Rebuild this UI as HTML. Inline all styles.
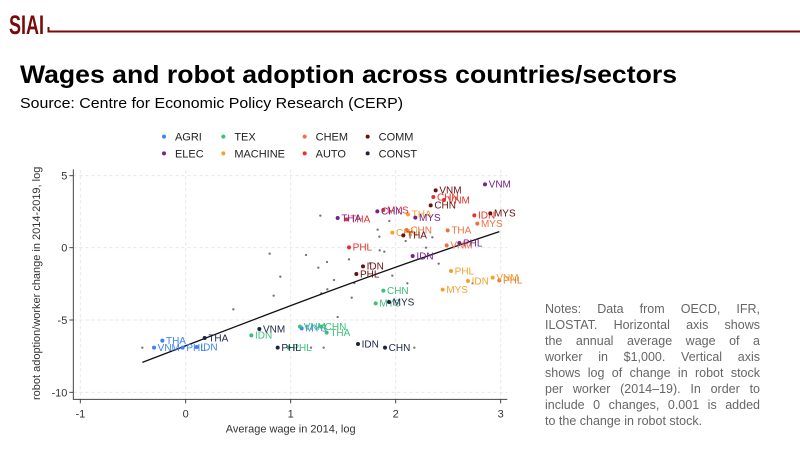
<!DOCTYPE html>
<html><head><meta charset="utf-8"><style>
body{margin:0;width:800px;height:450px;background:#fff;overflow:hidden;position:relative;font-family:"Liberation Sans",sans-serif}
.notes{position:absolute;left:545px;top:301px;width:215px;font-size:12.5px;line-height:16px;color:#666}
.notes div{text-align:justify;text-align-last:justify;white-space:nowrap}
.notes div.l{text-align-last:left}
</style></head><body>
<svg width="800" height="450" style="position:absolute;left:0;top:0" font-family="Liberation Sans, sans-serif">
<text x="9" y="34" font-size="27" font-weight="bold" fill="#7a0a0a" textLength="35" lengthAdjust="spacingAndGlyphs">SIAI</text>
<path d="M48.5 27 V31.5 H800" stroke="#7a0a0a" stroke-width="2" fill="none"/>
<text x="20" y="83" font-size="25" font-weight="bold" fill="#000" textLength="657" lengthAdjust="spacingAndGlyphs">Wages and robot adoption across countries/sectors</text>
<text x="20" y="108" font-size="14.5" fill="#000" textLength="383" lengthAdjust="spacingAndGlyphs">Source: Centre for Economic Policy Research (CERP)</text>
<g transform="translate(20,120) scale(0.3333333)" font-size="30">
<g stroke="#e8e8e8" stroke-width="3" stroke-dasharray="10,8">
<line x1="181" y1="150" x2="181" y2="838"/><line x1="497" y1="150" x2="497" y2="838"/><line x1="812" y1="150" x2="812" y2="838"/><line x1="1127" y1="150" x2="1127" y2="838"/><line x1="1442" y1="150" x2="1442" y2="838"/>
<line x1="160" y1="167" x2="1462" y2="167"/><line x1="160" y1="383" x2="1462" y2="383"/><line x1="160" y1="600" x2="1462" y2="600"/><line x1="160" y1="817" x2="1462" y2="817"/>
</g>
<path d="M160 148 V838 H1462" stroke="#444" stroke-width="3" fill="none"/>
<g stroke="#444" stroke-width="3">
<line x1="181" y1="838" x2="181" y2="850"/><line x1="497" y1="838" x2="497" y2="850"/><line x1="812" y1="838" x2="812" y2="850"/><line x1="1127" y1="838" x2="1127" y2="850"/><line x1="1442" y1="838" x2="1442" y2="850"/>
<line x1="148" y1="167" x2="160" y2="167"/><line x1="148" y1="383" x2="160" y2="383"/><line x1="148" y1="600" x2="160" y2="600"/><line x1="148" y1="817" x2="160" y2="817"/>
</g>
<g fill="#333" font-size="33" text-anchor="middle">
<text x="181" y="892">-1</text><text x="497" y="892">0</text><text x="812" y="892">1</text><text x="1127" y="892">2</text><text x="1442" y="892">3</text>
</g>
<g fill="#333" font-size="33" text-anchor="end">
<text x="142" y="179">5</text><text x="142" y="395">0</text><text x="142" y="612">-5</text><text x="142" y="829">-10</text>
</g>
<text x="812" y="938" text-anchor="middle" fill="#333" font-size="33">Average wage in 2014, log</text>
<text transform="translate(60,490) rotate(-90)" text-anchor="middle" fill="#333" font-size="33">robot adoption/worker change in 2014-2019, log</text>
<g font-size="33" fill="#222">
<circle cx="432" cy="50" r="6" fill="#3b82f6"/><text x="465" y="62">AGRI</text>
<circle cx="610" cy="50" r="6" fill="#3cbf78"/><text x="643" y="62">TEX</text>
<circle cx="854" cy="50" r="6" fill="#f07040"/><text x="887" y="62">CHEM</text>
<circle cx="1043" cy="50" r="6" fill="#6b0f0f"/><text x="1076" y="62">COMM</text>
<circle cx="432" cy="100" r="6" fill="#7a1f8a"/><text x="465" y="112">ELEC</text>
<circle cx="610" cy="100" r="6" fill="#f5a030"/><text x="643" y="112">MACHINE</text>
<circle cx="854" cy="100" r="6" fill="#e8302a"/><text x="887" y="112">AUTO</text>
<circle cx="1043" cy="100" r="6" fill="#1a2545"/><text x="1076" y="112">CONST</text>
</g>
<g fill="#777">
<circle cx="367" cy="683" r="3.5"/><circle cx="640" cy="568" r="3.5"/><circle cx="749" cy="401" r="3.5"/><circle cx="781" cy="470" r="3.5"/><circle cx="761" cy="527" r="3.5"/><circle cx="858" cy="405" r="3.5"/><circle cx="901" cy="287" r="3.5"/><circle cx="921" cy="426" r="3.5"/><circle cx="895" cy="443" r="3.5"/><circle cx="942" cy="480" r="3.5"/><circle cx="922" cy="508" r="3.5"/><circle cx="904" cy="520" r="3.5"/><circle cx="987" cy="418" r="3.5"/><circle cx="1003" cy="489" r="3.5"/><circle cx="995" cy="533" r="3.5"/><circle cx="953" cy="591" r="3.5"/><circle cx="873" cy="683" r="3.5"/><circle cx="911" cy="683" r="3.5"/><circle cx="1073" cy="329" r="3.5"/><circle cx="1078" cy="350" r="3.5"/><circle cx="1108" cy="303" r="3.5"/><circle cx="1079" cy="391" r="3.5"/><circle cx="1093" cy="395" r="3.5"/><circle cx="1117" cy="467" r="3.5"/><circle cx="1162" cy="490" r="3.5"/><circle cx="1157" cy="363" r="3.5"/><circle cx="1218" cy="383" r="3.5"/><circle cx="1237" cy="352" r="3.5"/><circle cx="1256" cy="431" r="3.5"/><circle cx="1358" cy="490" r="3.5"/><circle cx="1183" cy="683" r="3.5"/><circle cx="1050" cy="430" r="3.5"/>
</g>
<path d="M367 727 C 700 600, 1000 480, 1438 335" stroke="#111" stroke-width="4" fill="none"/>
<g font-size="30">
<g fill="#3b82f6"><circle cx="427" cy="662" r="6"/><text x="438" y="672">THA</text><circle cx="402" cy="683" r="6"/><text x="413" y="693">VNM</text><circle cx="488" cy="683" r="6"/><text x="499" y="693">PHL</text><circle cx="530" cy="681" r="6"/><text x="541" y="691">IDN</text><circle cx="845" cy="625" r="6"/><text x="856" y="635">MYS</text></g>
<g fill="#3cbf78"><circle cx="694" cy="646" r="6"/><text x="705" y="656">IDN</text><circle cx="840" cy="620" r="6"/><text x="851" y="630">VNM</text><circle cx="903" cy="620" r="6"/><text x="914" y="630">CHN</text><circle cx="920" cy="638" r="6"/><text x="931" y="648">THA</text><circle cx="806" cy="683" r="6"/><text x="817" y="693">PHL</text><circle cx="1090" cy="512" r="6"/><text x="1101" y="522">CHN</text><circle cx="1067" cy="550" r="6"/><text x="1078" y="560">MYS</text></g>
<g fill="#1a2545"><circle cx="554" cy="654" r="6"/><text x="565" y="664">THA</text><circle cx="718" cy="627" r="6"/><text x="729" y="637">VNM</text><circle cx="773" cy="683" r="6"/><text x="784" y="693">PHL</text><circle cx="1014" cy="672" r="6"/><text x="1025" y="682">IDN</text><circle cx="1095" cy="683" r="6"/><text x="1106" y="693">CHN</text><circle cx="1107" cy="546" r="6"/><text x="1118" y="556">MYS</text></g>
<g fill="#f07040"><circle cx="1280" cy="376" r="6"/><text x="1291" y="386">VNM</text><circle cx="1283" cy="331" r="6"/><text x="1294" y="341">THA</text><circle cx="1160" cy="330" r="6"/><text x="1171" y="340">CHN</text><circle cx="1372" cy="311" r="6"/><text x="1383" y="321">MYS</text><circle cx="1438" cy="481" r="6"/><text x="1449" y="491">PHL</text></g>
<g fill="#f5a030"><circle cx="1164" cy="283" r="6"/><text x="1175" y="293">THA</text><circle cx="1117" cy="338" r="6"/><text x="1128" y="348">CHN</text><circle cx="1293" cy="453" r="6"/><text x="1304" y="463">PHL</text><circle cx="1344" cy="483" r="6"/><text x="1355" y="493">IDN</text><circle cx="1268" cy="509" r="6"/><text x="1279" y="519">MYS</text><circle cx="1418" cy="473" r="6"/><text x="1429" y="483">VNM</text></g>
<g fill="#e8302a"><circle cx="1090" cy="270" r="6"/><text x="1101" y="280">MYS</text><circle cx="980" cy="298" r="6"/><text x="991" y="308">THA</text><circle cx="987" cy="382" r="6"/><text x="998" y="392">PHL</text><circle cx="1240" cy="231" r="6"/><text x="1251" y="241">CHN</text><circle cx="1363" cy="286" r="6"/><text x="1374" y="296">IDN</text><circle cx="1272" cy="240" r="6"/><text x="1283" y="250">VNM</text></g>
<g fill="#6b0f0f"><circle cx="1247" cy="211" r="6"/><text x="1258" y="221">VNM</text><circle cx="1232" cy="256" r="6"/><text x="1243" y="266">CHN</text><circle cx="1411" cy="280" r="6"/><text x="1422" y="290">MYS</text><circle cx="1029" cy="439" r="6"/><text x="1040" y="449">IDN</text><circle cx="1009" cy="462" r="6"/><text x="1020" y="472">PHL</text><circle cx="1150" cy="346" r="6"/><text x="1161" y="356">THA</text></g>
<g fill="#7a1f8a"><circle cx="1395" cy="193" r="6"/><text x="1406" y="203">VNM</text><circle cx="1072" cy="274" r="6"/><text x="1083" y="284">CHN</text><circle cx="953" cy="294" r="6"/><text x="964" y="304">THA</text><circle cx="1186" cy="293" r="6"/><text x="1197" y="303">MYS</text><circle cx="1178" cy="408" r="6"/><text x="1189" y="418">IDN</text><circle cx="1318" cy="369" r="6"/><text x="1329" y="379">PHL</text></g>
</g>
</g>
</svg>
<div class="notes">
<div>Notes: Data from OECD, IFR,</div>
<div>ILOSTAT. Horizontal axis shows</div>
<div>the annual average wage of a</div>
<div>worker in $1,000. Vertical axis</div>
<div>shows log of change in robot stock</div>
<div>per worker (2014–19). In order to</div>
<div>include 0 changes, 0.001 is added</div>
<div class="l">to the change in robot stock.</div>
</div>
</body></html>
